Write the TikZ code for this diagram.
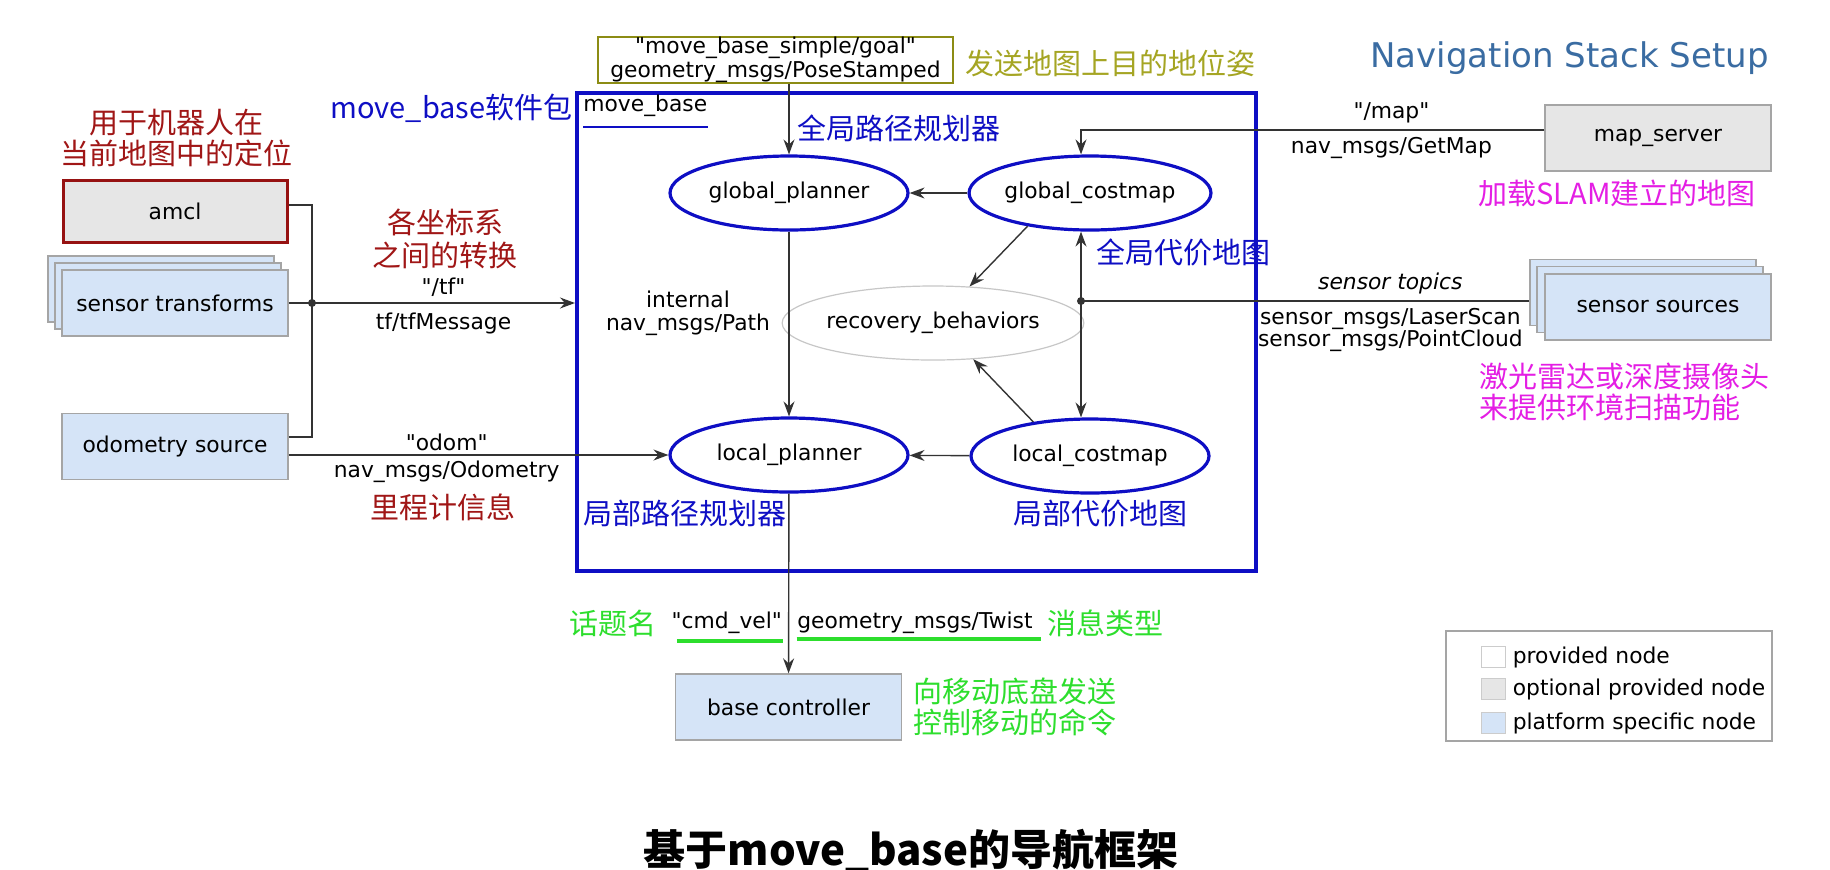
\documentclass[tikz,border=0pt]{standalone}
\usepackage{fontspec}
\setmainfont{DejaVu Sans}[Ligatures=TeXOff]
\newfontfamily\cjk{Noto Sans CJK SC}
\usetikzlibrary{arrows.meta,positioning,shapes.geometric}
\definecolor{mbblue}{RGB}{14,14,196}
\definecolor{pfblue}{RGB}{213,228,247}
\definecolor{optgray}{RGB}{230,230,230}
\definecolor{boxgray}{RGB}{165,165,165}
\definecolor{amclred}{RGB}{150,18,18}
\definecolor{dred}{RGB}{160,22,22}
\definecolor{goalolive}{RGB}{140,140,20}
\definecolor{goaltext}{RGB}{165,165,35}
\definecolor{slammag}{RGB}{228,30,228}
\definecolor{topicgreen}{RGB}{45,222,45}
\definecolor{titleblue}{RGB}{58,108,162}

\begin{document}
\begin{tikzpicture}[x=0.5pt, y=-0.5pt, >={Stealth[length=7.5pt,width=5.5pt,inset=2.5pt]},
 every node/.style={font=\fontsize{10.9}{11.5}\selectfont, inner sep=0pt},
 box/.style={draw=boxgray, line width=0.7pt, minimum width=113pt, minimum height=33pt},
 pf/.style={box, fill=pfblue}, opt/.style={box, fill=optgray},
 ell/.style={ellipse, draw=mbblue, line width=1.6pt, minimum width=119pt, minimum height=37pt},
 conn/.style={draw=black!80, line width=0.7pt},
 cn/.style={font=\cjk\fontsize{14.5}{15.5}\selectfont, align=center},
 uline/.style={draw=topicgreen, line width=1.8pt}]
\fill[white] (0,0) rectangle (1830,869);
\useasboundingbox (0,0) rectangle (1830,869);
\node[font=\fontsize{17}{20}\selectfont, text=titleblue] (ttl) at (1569.5,58) {Navigation Stack Setup};
% move_base package
\node[draw=mbblue, line width=2pt, minimum width=339.5pt, minimum height=239pt] (mb) at (916.5,332) {};
\node[anchor=west] (mblbl) at (583,106) {move\_base};
\draw[mbblue, line width=1.2pt] ([yshift=-5pt]mblbl.south west) -- ([yshift=-5pt]mblbl.south east);
\node[cn, text=mbblue, anchor=west] (mbcn) at (330,108) {move\_base软件包};
\node[draw=goalolive, line width=1.4pt, minimum width=177.5pt, minimum height=23pt, align=center,
 font=\fontsize{10.9}{10.5}\selectfont] (goal) at (775.5,60) {"move\_base\_simple/goal"\\geometry\_msgs/PoseStamped};
\node[cn, text=goaltext, anchor=west] (goalcn) at (965,63) {发送地图上目的地位姿};
\node[ell] (gp) at (789,193) {global\_planner};
\node[ell] (gc) at (1090,193) {global\_costmap};
\node[ell, draw=black!22, line width=0.6pt] (rb) at (933,323) {recovery\_behaviors};
\node[ell] (lp) at (789,455) {local\_planner};
\node[ell] (lc) at (1090,456) {local\_costmap};
\node[cn, text=mbblue] (gpcn) at (899,128) {全局路径规划器};
\node[cn, text=mbblue] (gccn) at (1183,252) {全局代价地图};
\node[cn, text=mbblue] (lpcn) at (685,513) {局部路径规划器};
\node[cn, text=mbblue] (lccn) at (1100,514) {局部代价地图};
\node[align=center] (path) at (688,313) {internal\\nav\_msgs/Path};
\draw[conn,->] (goal.south -| gp) -- (gp);
\draw[conn,->] (gc) -- (gp);
\draw[conn,->] (gp) -- (lp);
\draw[conn,->] (lc) -- (lp);
\draw[conn,->] (gc.208) -- (rb.45);
\draw[conn,->] (lc.149) -- (rb.318);
% left side
\node[opt, draw=amclred, line width=1.5pt, minimum width=112pt, minimum height=31pt] (amcl) at (175,211) {amcl};
\node[cn, text=dred] (amclcn) at (176,138) {用于机器人在\\当前地图中的定位};
\node[pf] (st3) at (161,289) {};
\node[pf] (st2) at (168,296) {};
\node[pf] (st) at (175,303) {sensor transforms};
\node[pf] (odom) at (175,446.5) {odometry source};
\coordinate (tj) at (312,303);
\draw[conn] ([yshift=3pt]amcl.east) -| (tj);
\draw[conn] ([yshift=4.75pt]odom.east) -| (tj);
\draw[conn] (st.east) -- (tj);
\fill[black!80] (tj) circle (2pt);
\draw[conn,->] (tj) -- node[above=3pt] (tflbl) {"/tf"} node[below=4.5pt] (tfmsg) {tf/tfMessage} (tj -| mb.west);
\node[cn, text=dred, font=\cjk\fontsize{14.5}{16.5}\selectfont] (tfcn) at (445,238.5) {各坐标系\\之间的转换};
\draw[conn,->] (odom.east |- lp) -- node[pos=0.416, above=2pt] (odlbl) {"odom"}
 node[pos=0.416, below=2.75pt] (odmsg) {nav\_msgs/Odometry} (lp);
\node[cn, text=dred] (odcn) at (443,507) {里程计信息};
% right side
\node[opt] (ms) at (1658,138) {map\_server};
\node[cn, text=slammag] (mscn) at (1617,193) {加载SLAM建立的地图};
\node[pf] (ss3) at (1643,292.5) {};
\node[pf] (ss2) at (1650,299.5) {};
\node[pf] (ss) at (1658,307) {sensor sources};
\node[cn, text=slammag, align=left, anchor=west] (sscn) at (1479,392) {激光雷达或深度摄像头\\来提供环境扫描功能};
\coordinate (sj) at (1081,301);
\draw[conn,->] ([yshift=4pt]ms.west) -| node[pos=0.165, above=3pt] (maplbl) {"/map"}
 node[pos=0.165, below=3.25pt] (mapmsg) {nav\_msgs/GetMap} (sj |- gc.north);
\draw[conn] (ss3.west |- sj) -- node[pos=0.31, above=3pt, font=\fontsize{10.9}{11}\selectfont\itshape] (stlbl) {sensor topics}
 node[pos=0.31, below=3.5pt, align=center, font=\fontsize{10.9}{11}\selectfont] (stmsg) {sensor\_msgs/LaserScan\\sensor\_msgs/PointCloud} (sj);
\fill[black!80] (sj) circle (2pt);
\draw[conn,->] (sj) -- (sj |- gc.south);
\draw[conn,->] (sj) -- (sj |- lc.north);
% base controller
\node[pf] (bc) at (788.5,707) {base controller};
\draw[conn,->] (lp) -- node[pos=0.72, left=3pt] (cmdlbl) {"cmd\_vel"}
 node[pos=0.72, right=4pt] (twist) {geometry\_msgs/Twist} (bc);
\draw[uline] ([xshift=3pt,yshift=-3.25pt]cmdlbl.south west) -- ([yshift=-3.25pt]cmdlbl.south east);
\draw[uline] ([yshift=-2.25pt]twist.south west) -- ([xshift=4pt,yshift=-2.25pt]twist.south east);
\node[cn, text=topicgreen, left=7pt of cmdlbl] (topiccn) {话题名};
\node[cn, text=topicgreen, right=7pt of twist] (typecn) {消息类型};
\node[cn, text=topicgreen, align=left, right=5.5pt of bc] (bccn) {向移动底盘发送\\控制移动的命令};
% legend
\node[draw=boxgray, line width=0.7pt, fill=white, minimum width=163pt, minimum height=55pt] (lg) at (1609,686) {};
\node[draw=black!20, fill=white, minimum width=12pt, minimum height=10.5pt] (sw1) at (1493,657) {};
\node[draw=black!20, fill=optgray, minimum width=12pt, minimum height=10.5pt] (sw2) at (1493,689) {};
\node[draw=black!20, fill=pfblue, minimum width=12pt, minimum height=10.5pt] (sw3) at (1493,723) {};
\node[right=3.5pt of sw1] (lg1) {provided node};
\node[right=3.5pt of sw2] (lg2) {optional provided node};
\node[right=3.5pt of sw3] (lg3) {platform specific node};
\node[font=\cjk\bfseries\fontsize{21}{24}\selectfont] (cap) at (911,851) {基于move\_base的导航框架};
\end{tikzpicture}
\end{document}
